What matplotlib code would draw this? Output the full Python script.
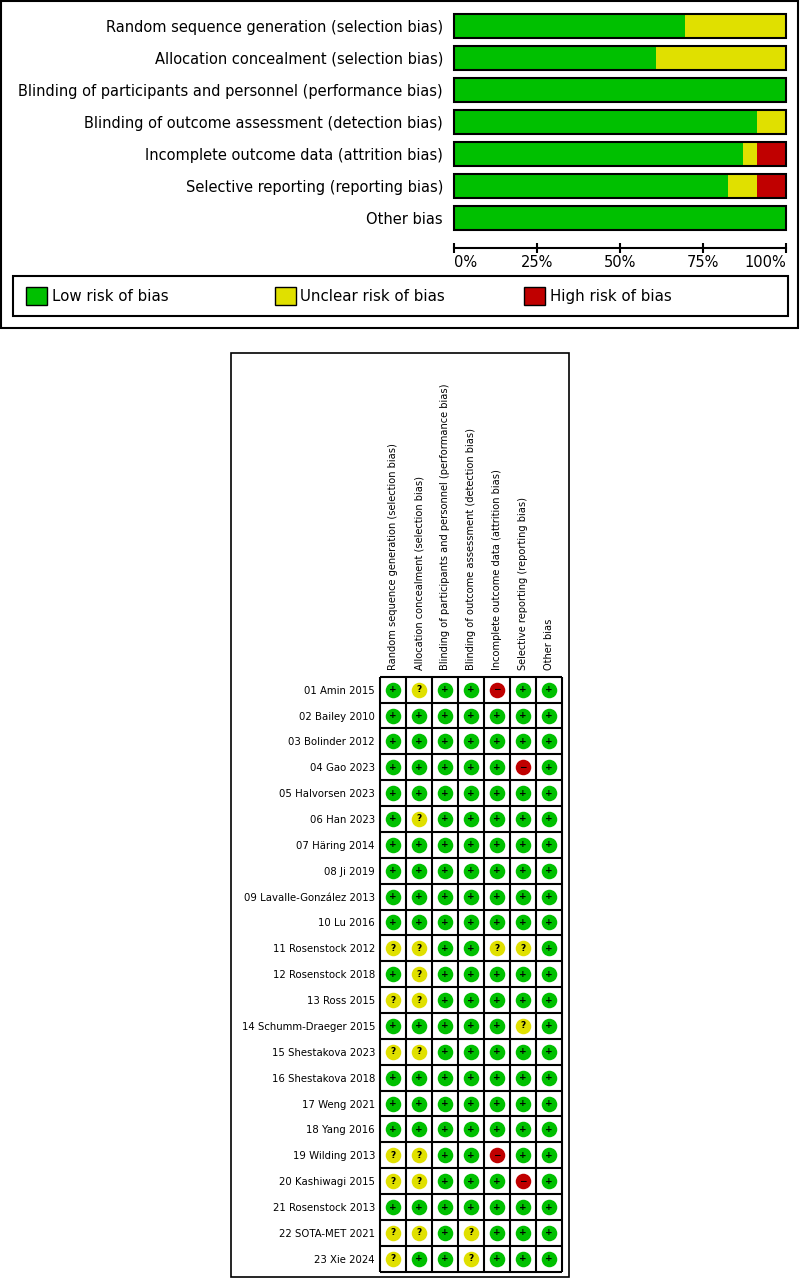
import numpy as np
import matplotlib
matplotlib.use('Agg')
import matplotlib.pyplot as plt
from matplotlib.patches import Rectangle, Patch

W, H = 800, 1280

domains = [
    'Random sequence generation (selection bias)',
    'Allocation concealment (selection bias)',
    'Blinding of participants and personnel (performance bias)',
    'Blinding of outcome assessment (detection bias)',
    'Incomplete outcome data (attrition bias)',
    'Selective reporting (reporting bias)',
    'Other bias',
]

studies = [
    '01 Amin 2015', '02 Bailey 2010', '03 Bolinder 2012', '04 Gao 2023',
    '05 Halvorsen 2023', '06 Han 2023', '07 Häring 2014', '08 Ji 2019',
    '09 Lavalle-González 2013', '10 Lu 2016', '11 Rosenstock 2012',
    '12 Rosenstock 2018', '13 Ross 2015', '14 Schumm-Draeger 2015',
    '15 Shestakova 2023', '16 Shestakova 2018', '17 Weng 2021',
    '18 Yang 2016', '19 Wilding 2013', '20 Kashiwagi 2015',
    '21 Rosenstock 2013', '22 SOTA-MET 2021', '23 Xie 2024',
]

# one string per study, one judgement per domain (+ low, ? unclear, - high)
rob = [
    '+?++-++', '+++++++', '+++++++', '+++++-+', '+++++++', '+?+++++',
    '+++++++', '+++++++', '+++++++', '+++++++', '??++??+', '+?+++++',
    '??+++++', '+++++?+', '??+++++', '+++++++', '+++++++', '+++++++',
    '??++-++', '??+++-+', '+++++++', '??+?+++', '?++?+++',
]

levels = ['+', '?', '-']
level_names = ['Low risk of bias', 'Unclear risk of bias', 'High risk of bias']
colors = ['#00C000', '#E0E000', '#C00000']
symbols = {'+': '+', '?': '?', '-': '\u2212'}


def rect(x0, y0, x1, y1):
    return [x0 / W, 1 - y1 / H, (x1 - x0) / W, (y1 - y0) / H]


plt.rcParams['font.family'] = 'DejaVu Sans'
fig = plt.figure(figsize=(W / 100, H / 100), dpi=100)

# outer frames
fig.patches.append(Rectangle((1 / W, 1 - 328 / H), 797 / W, 327 / H,
                             transform=fig.transFigure, fill=False,
                             ec='black', lw=1.5))
fig.patches.append(Rectangle((231 / W, 1 - 1277 / H), 338 / W, 924 / H,
                             transform=fig.transFigure, fill=False,
                             ec='black', lw=1.2))
fig.patches.append(Rectangle((13 / W, 1 - 315.7 / H), 774.5 / W, 39.2 / H,
                             transform=fig.transFigure, fill=False,
                             ec='black', lw=1.5))

# ---- summary bar chart ----
n = len(rob)
share = np.array([[sum(r[j] == lv for r in rob) / n for lv in levels]
                  for j in range(len(domains))])

ax = fig.add_axes(rect(454, 10, 786, 248))
y = np.arange(len(domains))
left = np.zeros(len(domains))
for k in range(len(levels)):
    ax.barh(y, share[:, k], left=left, height=0.766, color=colors[k], lw=0)
    left += share[:, k]
ax.barh(y, np.ones(len(domains)), height=0.766, fill=False,
        edgecolor='black', lw=1.5, clip_on=False)
ax.set_xlim(0, 1)
ax.set_ylim(6.9375, -0.5)
ax.set_yticks(y)
ax.set_yticklabels(domains, fontsize=10.5)
ax.tick_params(axis='y', length=0, pad=8)
ax.set_xticks([0, 0.25, 0.5, 0.75, 1])
ax.set_xticklabels(['0%', '25%', '50%', '75%', '100%'], fontsize=10.5)
ax.tick_params(axis='x', direction='inout', length=7.6, width=1.5, pad=1)
xl = ax.get_xticklabels()
xl[0].set_ha('left')
xl[-1].set_ha('right')
for s in ['left', 'right', 'top']:
    ax.spines[s].set_visible(False)
ax.spines['bottom'].set_linewidth(1.5)
ax.patch.set_visible(False)

# legend, one entry per slot
leg_x = [26, 275, 524]
for k in range(len(levels)):
    lg = fig.legend(handles=[Patch(fc=colors[k], ec='black', lw=1)],
                    labels=[level_names[k]], loc='center left',
                    bbox_to_anchor=(leg_x[k] / W, 1 - 296 / H),
                    frameon=False, fontsize=10.8, borderaxespad=0,
                    borderpad=0, handlelength=1.4, handleheight=1.4,
                    handletextpad=0.3)

# ---- traffic-light table ----
g = fig.add_axes(rect(380, 676.7, 562, 1271.7))
ncol = len(domains)
g.set_xlim(-0.5, ncol - 0.5)
g.set_ylim(n - 0.5, -0.5)
g.vlines(np.arange(-0.5, ncol), -0.5, n - 0.5, color='black', lw=1.5,
         clip_on=False)
g.hlines(np.arange(-0.5, n), -0.5, ncol - 0.5, color='black', lw=1.5,
         clip_on=False)
for i, r in enumerate(rob):
    for j, v in enumerate(r):
        k = levels.index(v)
        g.scatter(j, i, s=125, color=colors[k], lw=0, zorder=3)
        g.text(j, i, symbols[v], ha='center', va='center', fontsize=6.5,
               fontweight='bold', color='black', zorder=4)
g.set_yticks(range(n))
g.set_yticklabels(studies, fontsize=7.3)
g.xaxis.tick_top()
g.set_xticks(range(ncol))
g.set_xticklabels(domains, fontsize=7.1, rotation=90)
g.tick_params(length=0)
g.tick_params(axis='y', pad=3.6)
g.tick_params(axis='x', pad=4.8)
for s in g.spines.values():
    s.set_visible(False)

fig.savefig('out.png', dpi=100)
